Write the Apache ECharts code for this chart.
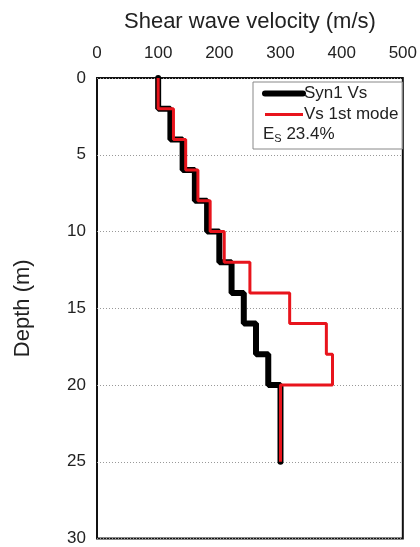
<!DOCTYPE html>
<html>
<head>
<meta charset="utf-8">
<script src="https://cdn.jsdelivr.net/npm/echarts@6/dist/echarts.min.js"></script>
<style>
  html, body { margin: 0; padding: 0; background: #fff; }
  #chart { width: 420px; height: 547px; }
</style>
</head>
<body>
<div id="chart"></div>
<script>
// layer boundaries (m) and velocity of each layer (m/s)
const layerDepths = [0, 2, 4, 6, 8, 10, 12, 14, 16, 18, 20, 25];
const syn1Vs = [100, 120, 140, 160, 180, 200, 220, 240, 260, 280, 300];
const mode1Vs = [100, 125, 145, 165, 185, 208, 250, 315, 375, 385, 300];
const velocityTicks = [0, 100, 200, 300, 400, 500];
const depthTicks = [0, 5, 10, 15, 20, 25, 30];
const misfitText = "23.4%";

// turn layers into a step profile: each layer gives a point at its top and bottom
function profile(vs) {
  let pts = [];
  vs.forEach((v, i) => {
    pts.push([v, layerDepths[i]]);
    pts.push([v, layerDepths[i + 1]]);
  });
  return pts;
}

const font = "Liberation Sans, Arial, sans-serif";
const chart = echarts.init(document.getElementById("chart"));

const option = {
  animation: false,
  textStyle: { fontFamily: font },
  grid: {
    left: 97,
    right: 16,
    top: 78,
    bottom: 8,
    show: true,
    borderColor: "#111",
    borderWidth: 2,
    backgroundColor: "transparent",
  },
  legend: {
    orient: "vertical",
    left: 253,
    top: 82,
    padding: [3, 4, 26, 9],
    itemGap: 4,
    itemWidth: 38,
    itemHeight: 14,
    borderColor: "#888",
    borderWidth: 1,
    // hide the symbol drawn on the legend line, keep only the line
    itemStyle: { color: "transparent", borderWidth: 0, opacity: 0 },
    textStyle: { fontSize: 17, color: "#222", fontFamily: font, padding: [0, 0, 0, -4] },
    data: [
      { name: "Syn1 Vs", lineStyle: { width: 6 } },
      { name: "Vs 1st mode", lineStyle: { width: 3 } },
    ],
  },
  graphic: [
    {
      type: "text",
      left: 263,
      top: 126,
      style: {
        text: "{e|E}{s|S}{v| " + misfitText + "}",
        rich: {
          e: { fontSize: 17, fill: "#222", fontFamily: font },
          s: { fontSize: 11, fill: "#222", fontFamily: font, verticalAlign: "bottom", padding: [8, 0, 0, 0] },
          v: { fontSize: 17, fill: "#222", fontFamily: font },
        },
      },
    },
  ],
  xAxis: {
    type: "value",
    position: "top",
    min: velocityTicks[0],
    max: velocityTicks[velocityTicks.length - 1],
    interval: 100,
    name: "Shear wave velocity (m/s)",
    nameLocation: "middle",
    nameGap: 45,
    nameTextStyle: { fontSize: 22, color: "#222", fontFamily: font },
    axisLine: { show: false },
    axisTick: { show: false },
    axisLabel: { fontSize: 17, color: "#222", margin: 16, fontFamily: font },
    splitLine: { show: false },
  },
  yAxis: {
    type: "value",
    inverse: true,
    min: depthTicks[0],
    max: depthTicks[depthTicks.length - 1],
    interval: 5,
    name: "Depth (m)",
    nameLocation: "middle",
    nameRotate: 90,
    nameGap: 63,
    nameTextStyle: { fontSize: 22, color: "#222", fontFamily: font },
    axisLine: { show: false },
    axisTick: { show: false },
    axisLabel: { fontSize: 17, color: "#222", margin: 11, fontFamily: font },
    splitLine: {
      show: true,
      lineStyle: { color: "#999", type: [1, 2], width: 1 },
    },
  },
  series: [
    {
      name: "Syn1 Vs",
      type: "line",
      symbol: "none",
      color: "#000",
      lineStyle: { width: 6, color: "#000", cap: "round" },
      data: profile(syn1Vs),
      z: 2,
    },
    {
      name: "Vs 1st mode",
      type: "line",
      symbol: "none",
      color: "#e8141c",
      lineStyle: { width: 3, color: "#e8141c" },
      data: profile(mode1Vs),
      z: 3,
    },
  ],
};

chart.setOption(option);
</script>
</body>
</html>
